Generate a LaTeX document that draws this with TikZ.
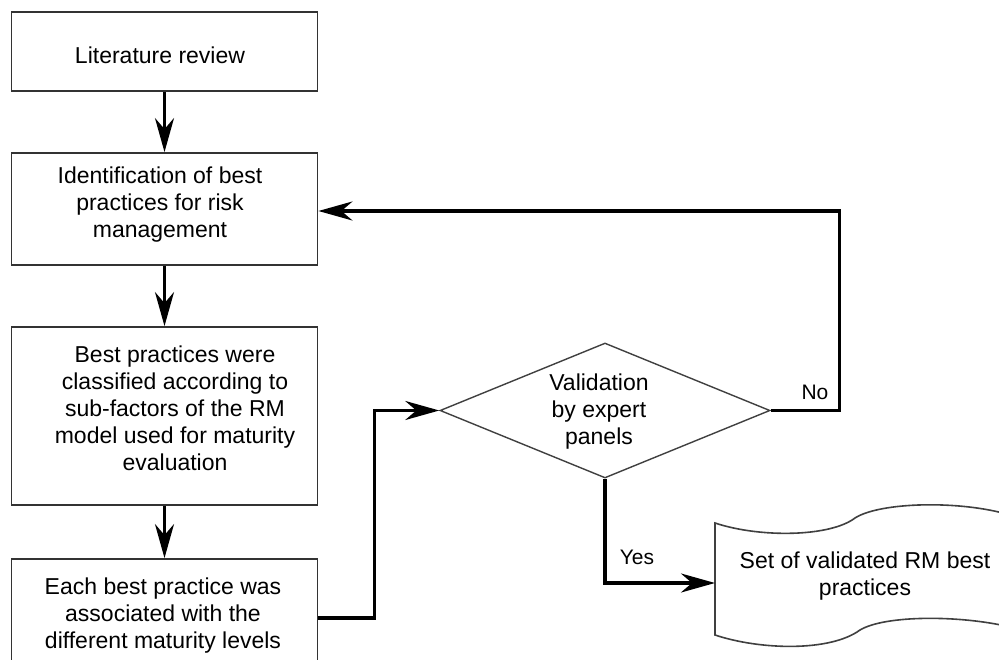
\documentclass[tikz,border=0pt]{standalone}
\usepackage{fontspec}
\setmainfont{Liberation Sans}
\usetikzlibrary{shapes.geometric,arrows.meta}
\begin{document}
\begin{tikzpicture}[x=1pt,y=-1pt,
  box/.style={draw=black!80, line width=1.8pt, rectangle, minimum width=306pt, inner sep=0pt},
  txt/.style={align=center, inner sep=0pt, font=\fontsize{23}{27}\selectfont},
  lbl/.style={inner sep=0pt, font=\fontsize{21}{25}\selectfont},
  conn/.style={line width=3.2pt, -{Stealth[length=34pt,width=19pt,inset=11pt]}},
  outline/.style={draw=black!75, line width=1.4pt}]
\useasboundingbox (0,0) rectangle (999,660);
\clip (0,0) rectangle (999,660);
\fill[white] (0,0) rectangle (999,660);

% boxes
\node[box, minimum height=79pt]  (lit)   at (164.5,51.5) {};
\node[box, minimum height=112pt] (ident) at (164.5,209) {};
\node[box, minimum height=178pt] (class) at (164.5,416) {};
\node[box, minimum height=110pt] (assoc) at (164.5,614) {};

\node[txt] (littxt)   at (160,55)  {Literature review};
\node[txt] (identtxt) at (160,205) {Identification of best\\practices for risk\\management};
\node[txt] (classtxt) at (175,408) {Best practices were\\classified according to\\sub-factors of the RM\\model used for maturity\\evaluation};
\node[txt] (assoctxt) at (163,616) {Each best practice was\\associated with the\\different maturity levels};

% decision
\node[diamond, outline, minimum width=330pt, minimum height=135pt, inner sep=0pt] (val) at (605,410.5) {};
\node[txt] (valtxt) at (599,411.5) {Validation\\by expert\\panels};

% document shape
\draw[outline, line width=1.6pt] (715,523) .. controls (760,538) and (830,537) .. (855,518)
  .. controls (880,502) and (960,500) .. (1010,515) -- (1010,627)
  .. controls (960,615) and (885,615) .. (860,630)
  .. controls (830,652) and (760,650) .. (715,635) -- cycle;
\coordinate (docw) at (715,583);
\node[txt] (doctxt) at (865,576) {Set of validated RM best\\practices};

% connectors
\draw[conn] (lit) -- (ident);
\draw[conn] (ident) -- (class);
\draw[conn] (class) -- (assoc);
\draw[conn] ([yshift=-4pt]assoc.east) -- ++(56,0) |- (val.west);
\draw[conn] (val.east) -- ++(69,0) |- ([yshift=-2pt]ident.east);
\draw[conn] (val.south) |- (docw);

\node[lbl] (no)  at (815,392) {No};
\node[lbl] (yes) at (637,557) {Yes};
\end{tikzpicture}
\end{document}
